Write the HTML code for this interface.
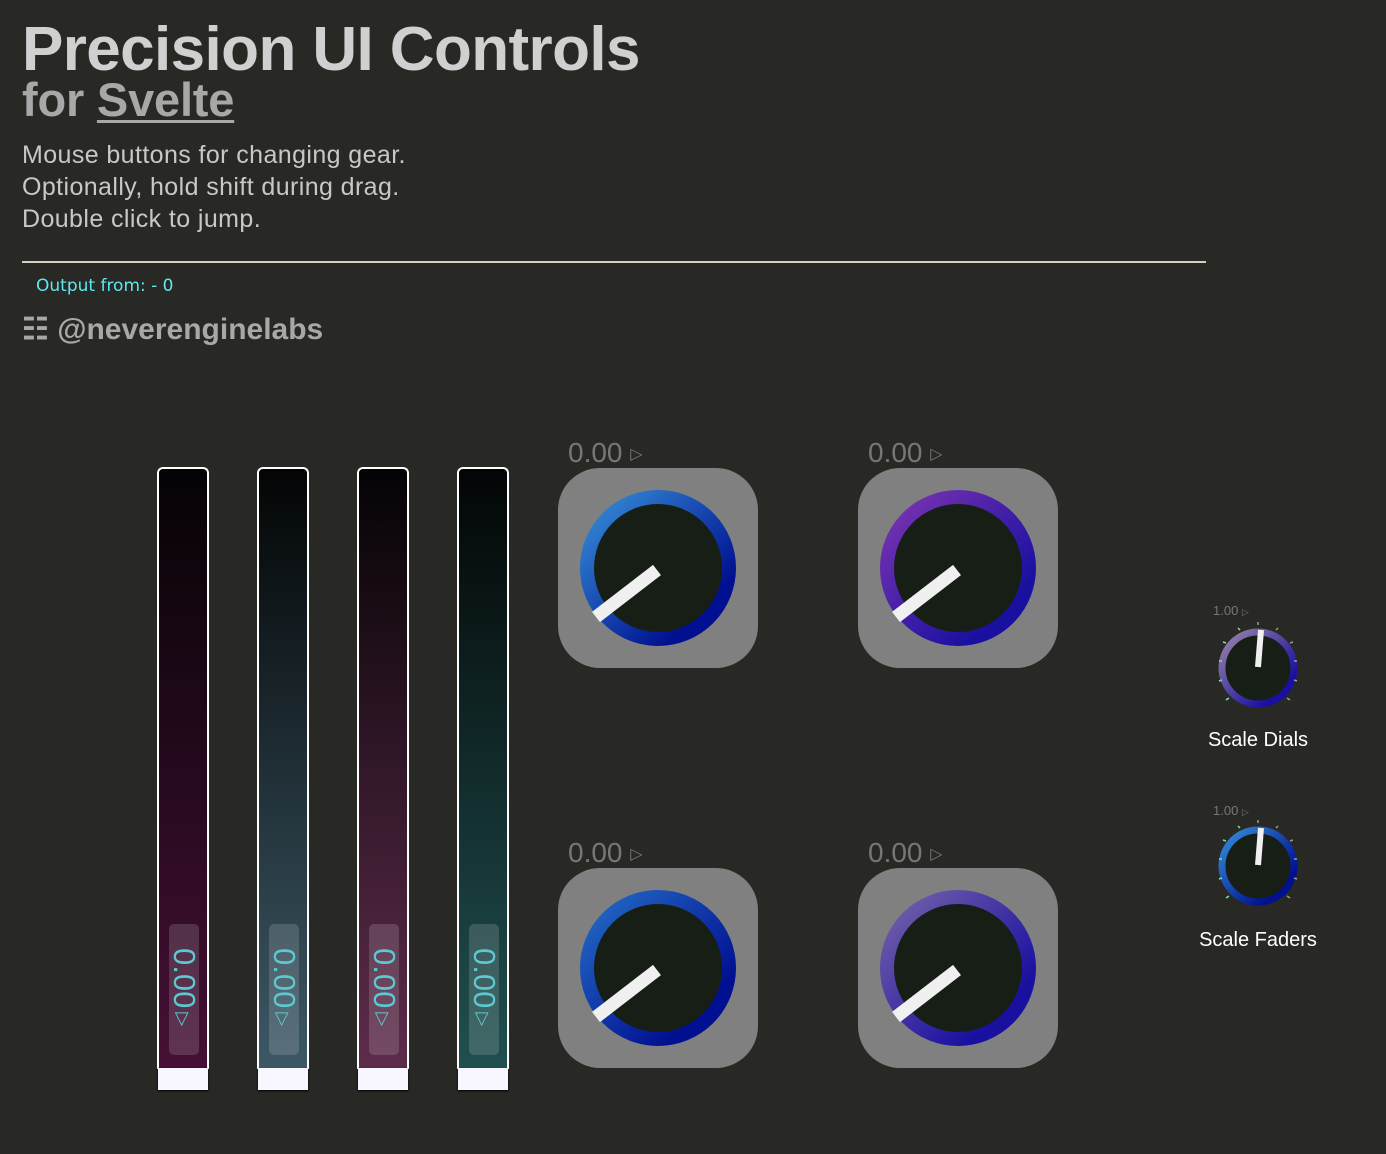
<!DOCTYPE html>
<html><head><meta charset="utf-8"><style>
body{margin:0;width:1386px;height:1154px;background:#282825;font-family:"Liberation Sans",sans-serif;position:relative;overflow:hidden}
.a{position:absolute}
h1{position:absolute;left:22px;top:18px;margin:0;font-size:62px;font-weight:bold;color:#d0d0d0;letter-spacing:-0.6px;line-height:64px}
.sub{left:22px;top:72px;font-size:47px;font-weight:bold;color:#a8a8a8;letter-spacing:-0.2px}
.sub u{text-decoration-thickness:3px;text-underline-offset:4px}
.p{left:22px;top:139px;font-size:25px;color:#c8c8c8;line-height:32px;letter-spacing:0.4px}
.fader{position:absolute;top:467px;width:48px;height:600px;border:2px solid #fff;border-bottom:none;border-radius:6px 6px 0 0}
.cap{position:absolute;top:1068px;width:50px;height:22px;background:#f8f6ff;box-shadow:0 1px 2px #000}
.lab{position:absolute;left:10px;top:455px;width:30px;height:131px;background:rgba(255,255,255,.15);border-radius:5px}
.lab span{position:absolute;left:-44px;top:49px;width:118px;transform:rotate(90deg);color:#5cc8d0;font-size:31px;text-align:left;white-space:nowrap;padding-left:16px;box-sizing:border-box}
.lab span i{font-style:normal;font-size:18px;vertical-align:middle;margin-left:4px}
.val{position:absolute;font-size:28px;color:#777}
.val i{font-style:normal;font-size:16px;vertical-align:3px}
.s{position:absolute;color:#fff;font-size:20px;text-align:center;width:160px}
</style></head><body>
<h1>Precision UI Controls</h1>
<div class="a sub">for <u>Svelte</u></div>
<div class="a p">Mouse buttons for changing gear.<br>Optionally, hold shift during drag.<br>Double click to jump.</div>
<div class="a" style="left:22px;top:261px;width:1184px;height:2px;background:#d8cfc0"></div>
<div class="a" style="left:36px;top:276px;font-size:17px;color:#5ee8f0;font-family:'DejaVu Sans',sans-serif;">Output from: - 0</div>
<div class="a" style="left:22px;top:312px;font-size:30px;font-weight:bold;color:#a8a8a8">&#x2637; @neverenginelabs</div>

<div class="fader" style="left:157px;background:linear-gradient(#050305,#451035)"><div class="lab"><span>0.00<i>▷</i></span></div></div>
<div class="cap" style="left:158px"></div>
<div class="fader" style="left:257px;background:linear-gradient(#030505,#3d5866)"><div class="lab"><span>0.00<i>▷</i></span></div></div>
<div class="cap" style="left:258px"></div>
<div class="fader" style="left:357px;background:linear-gradient(#050305,#5e2c4b)"><div class="lab"><span>0.00<i>▷</i></span></div></div>
<div class="cap" style="left:358px"></div>
<div class="fader" style="left:457px;background:linear-gradient(#030505,#215050)"><div class="lab"><span>0.00<i>▷</i></span></div></div>
<div class="cap" style="left:458px"></div>

<svg class="a" style="left:0;top:0" width="1386" height="1154">
<defs>
<linearGradient id="b" x1="0" y1="0" x2="1" y2="1"><stop offset="0.1" stop-color="#2f7fd0"/><stop offset="0.8" stop-color="#001090"/></linearGradient>
<linearGradient id="v" x1="0" y1="0" x2="1" y2="1"><stop offset="0.1" stop-color="#7030b0"/><stop offset="0.8" stop-color="#1a10a0"/></linearGradient>
<linearGradient id="b2" x1="0" y1="0" x2="1" y2="1"><stop offset="0.1" stop-color="#2060c0"/><stop offset="0.8" stop-color="#001090"/></linearGradient>
<linearGradient id="v2" x1="0" y1="0" x2="1" y2="1"><stop offset="0.1" stop-color="#6a58a8"/><stop offset="0.8" stop-color="#1a10a0"/></linearGradient>
<linearGradient id="sv" x1="0" y1="0" x2="1" y2="1"><stop offset="0.1" stop-color="#8a78a8"/><stop offset="0.8" stop-color="#1a10a0"/></linearGradient>
</defs>
<rect x="558" y="468" width="200" height="200" rx="42" fill="#808080"/>
<circle cx="658" cy="568" r="71" fill="#161e16" stroke="url(#b)" stroke-width="14"/>
<line x1="657" y1="570" x2="596" y2="617" stroke="#f0f0f0" stroke-width="13"/>
<rect x="858" y="468" width="200" height="200" rx="42" fill="#808080"/>
<circle cx="958" cy="568" r="71" fill="#161e16" stroke="url(#v)" stroke-width="14"/>
<line x1="957" y1="570" x2="896" y2="617" stroke="#f0f0f0" stroke-width="13"/>
<rect x="558" y="868" width="200" height="200" rx="42" fill="#808080"/>
<circle cx="658" cy="968" r="71" fill="#161e16" stroke="url(#b2)" stroke-width="14"/>
<line x1="657" y1="970" x2="596" y2="1017" stroke="#f0f0f0" stroke-width="13"/>
<rect x="858" y="868" width="200" height="200" rx="42" fill="#808080"/>
<circle cx="958" cy="968" r="71" fill="#161e16" stroke="url(#v2)" stroke-width="14"/>
<line x1="957" y1="970" x2="896" y2="1017" stroke="#f0f0f0" stroke-width="13"/>

<circle cx="1258" cy="668" r="36" fill="#161e16" stroke="url(#sv)" stroke-width="7"/>
<line x1="1258" y1="667" x2="1261" y2="630" stroke="#f0f0f0" stroke-width="6"/>
<circle cx="1258" cy="866" r="36" fill="#161e16" stroke="url(#b)" stroke-width="7"/>
<line x1="1258" y1="865" x2="1261" y2="828" stroke="#f0f0f0" stroke-width="6"/>
<g stroke-width="1.5">
<path d="M1226 700l3-2M1219 681l3-1M1219 661l3 0M1223 642l3 1M1238 628l2 2" stroke="#7ee0b0"/>
<path d="M1258 622v3M1278 628l-2 2M1293 642l-3 1M1297 661h-3M1297 681l-3-1M1290 700l-3-2" stroke="#999"/>
<path d="M1226 898l3-2M1219 879l3-1M1219 859l3 0M1223 840l3 1M1238 826l2 2" stroke="#7ee0b0"/>
<path d="M1258 820v3M1278 826l-2 2M1293 840l-3 1M1297 859h-3M1297 879l-3-1M1290 898l-3-2" stroke="#999"/>
</g>
</svg>
<div class="val" style="left:568px;top:437px">0.00 <i>▷</i></div>
<div class="val" style="left:868px;top:437px">0.00 <i>▷</i></div>
<div class="val" style="left:568px;top:837px">0.00 <i>▷</i></div>
<div class="val" style="left:868px;top:837px">0.00 <i>▷</i></div>
<div class="a" style="left:1213px;top:603px;font-size:13px;color:#777">1.00 <span style="font-size:9px">▷</span></div>
<div class="a" style="left:1213px;top:803px;font-size:13px;color:#777">1.00 <span style="font-size:9px">▷</span></div>
<div class="s" style="left:1178px;top:729px">Scale Dials</div>
<div class="s" style="left:1178px;top:929px">Scale Faders</div>
</body></html>
